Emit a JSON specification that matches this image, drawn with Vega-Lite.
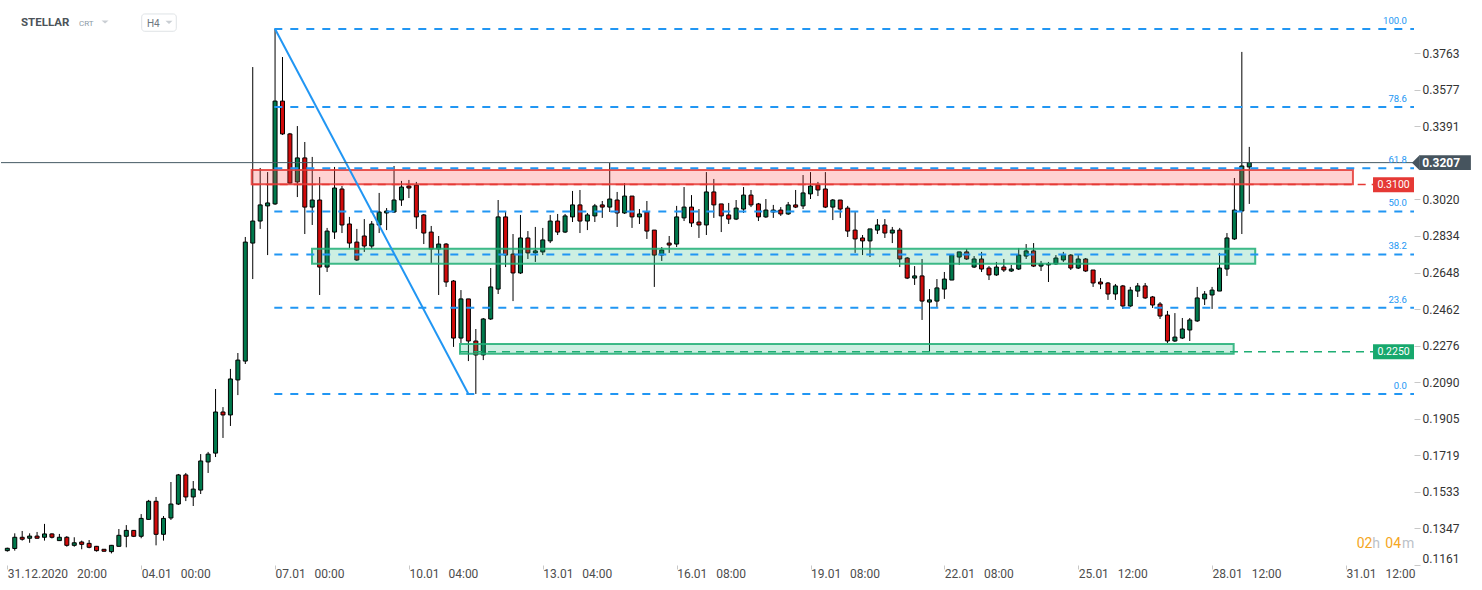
{
"$schema": "https://vega.github.io/schema/vega-lite/v6.json",
"width": 1413, "height": 565, "padding": 0, "background": "#ffffff",
"config": {"view": {"stroke": null}, "font": "Roboto", "text": {"font": "Roboto"}, "scale": {"continuousPadding": 0}},
"datasets": {
"candles": [
{"i":0,"o":0.1234,"h":0.1249,"l":0.1229,"c":0.1246},
{"i":1,"o":0.1245,"h":0.1322,"l":0.1234,"c":0.1302},
{"i":2,"o":0.1302,"h":0.1334,"l":0.1285,"c":0.1292},
{"i":3,"o":0.1297,"h":0.1322,"l":0.1274,"c":0.1308},
{"i":4,"o":0.1308,"h":0.1329,"l":0.1296,"c":0.1297},
{"i":5,"o":0.1302,"h":0.1370,"l":0.1285,"c":0.1319},
{"i":6,"o":0.1319,"h":0.1322,"l":0.1296,"c":0.1302},
{"i":7,"o":0.1285,"h":0.1319,"l":0.1284,"c":0.1302},
{"i":8,"o":0.1302,"h":0.1308,"l":0.1254,"c":0.1261},
{"i":9,"o":0.1261,"h":0.1302,"l":0.1254,"c":0.1274},
{"i":10,"o":0.1278,"h":0.1285,"l":0.1241,"c":0.1266},
{"i":11,"o":0.1271,"h":0.1288,"l":0.1246,"c":0.1251},
{"i":12,"o":0.1256,"h":0.1258,"l":0.1229,"c":0.1234},
{"i":13,"o":0.1241,"h":0.1242,"l":0.1229,"c":0.1231},
{"i":14,"o":0.1229,"h":0.1263,"l":0.1220,"c":0.1261},
{"i":15,"o":0.1256,"h":0.1344,"l":0.1255,"c":0.1312},
{"i":16,"o":0.1307,"h":0.1364,"l":0.1251,"c":0.1337},
{"i":17,"o":0.1337,"h":0.1339,"l":0.1303,"c":0.1307},
{"i":18,"o":0.1307,"h":0.1420,"l":0.1297,"c":0.1398},
{"i":19,"o":0.1393,"h":0.1492,"l":0.1392,"c":0.1485},
{"i":20,"o":0.1485,"h":0.1507,"l":0.1261,"c":0.1317},
{"i":21,"o":0.1317,"h":0.1410,"l":0.1285,"c":0.1398},
{"i":22,"o":0.1400,"h":0.1583,"l":0.1390,"c":0.1471},
{"i":23,"o":0.1471,"h":0.1624,"l":0.1466,"c":0.1619},
{"i":24,"o":0.1619,"h":0.1629,"l":0.1486,"c":0.1507},
{"i":25,"o":0.1507,"h":0.1588,"l":0.1461,"c":0.1547},
{"i":26,"o":0.1542,"h":0.1725,"l":0.1522,"c":0.1690},
{"i":27,"o":0.1685,"h":0.1736,"l":0.1629,"c":0.1725},
{"i":28,"o":0.1730,"h":0.2056,"l":0.1710,"c":0.1939},
{"i":29,"o":0.1939,"h":0.1964,"l":0.1807,"c":0.1924},
{"i":30,"o":0.1924,"h":0.2158,"l":0.1868,"c":0.2107},
{"i":31,"o":0.2102,"h":0.2239,"l":0.2025,"c":0.2203},
{"i":32,"o":0.2198,"h":0.2829,"l":0.2183,"c":0.2803},
{"i":33,"o":0.2798,"h":0.3693,"l":0.2615,"c":0.2910},
{"i":34,"o":0.2910,"h":0.3180,"l":0.2870,"c":0.2992},
{"i":35,"o":0.2987,"h":0.3159,"l":0.2737,"c":0.3002},
{"i":36,"o":0.2997,"h":0.3887,"l":0.2992,"c":0.3520},
{"i":37,"o":0.3520,"h":0.3744,"l":0.3348,"c":0.3353},
{"i":38,"o":0.3353,"h":0.3358,"l":0.3098,"c":0.3103},
{"i":39,"o":0.3109,"h":0.3393,"l":0.3032,"c":0.3231},
{"i":40,"o":0.3231,"h":0.3312,"l":0.2844,"c":0.2981},
{"i":41,"o":0.2981,"h":0.3236,"l":0.2890,"c":0.3017},
{"i":42,"o":0.3017,"h":0.3134,"l":0.2534,"c":0.2676},
{"i":43,"o":0.2676,"h":0.2875,"l":0.2651,"c":0.2859},
{"i":44,"o":0.2854,"h":0.3185,"l":0.2819,"c":0.3078},
{"i":45,"o":0.3073,"h":0.3088,"l":0.2849,"c":0.2890},
{"i":46,"o":0.2895,"h":0.2931,"l":0.2773,"c":0.2798},
{"i":47,"o":0.2803,"h":0.2870,"l":0.2707,"c":0.2712},
{"i":48,"o":0.2834,"h":0.2920,"l":0.2753,"c":0.2783},
{"i":49,"o":0.2783,"h":0.2910,"l":0.2768,"c":0.2895},
{"i":50,"o":0.2890,"h":0.3053,"l":0.2849,"c":0.2956},
{"i":51,"o":0.2951,"h":0.2976,"l":0.2864,"c":0.2961},
{"i":52,"o":0.2956,"h":0.3190,"l":0.2951,"c":0.3017},
{"i":53,"o":0.3017,"h":0.3114,"l":0.2987,"c":0.3083},
{"i":54,"o":0.3088,"h":0.3119,"l":0.3027,"c":0.3078},
{"i":55,"o":0.3093,"h":0.3109,"l":0.2870,"c":0.2931},
{"i":56,"o":0.2941,"h":0.2946,"l":0.2793,"c":0.2849},
{"i":57,"o":0.2854,"h":0.2885,"l":0.2697,"c":0.2768},
{"i":58,"o":0.2768,"h":0.2834,"l":0.2534,"c":0.2793},
{"i":59,"o":0.2793,"h":0.2798,"l":0.2575,"c":0.2600},
{"i":60,"o":0.2605,"h":0.2610,"l":0.2270,"c":0.2315},
{"i":61,"o":0.2315,"h":0.2559,"l":0.2290,"c":0.2514},
{"i":62,"o":0.2514,"h":0.2514,"l":0.2198,"c":0.2300},
{"i":63,"o":0.2300,"h":0.2361,"l":0.2031,"c":0.2229},
{"i":64,"o":0.2229,"h":0.2417,"l":0.2203,"c":0.2412},
{"i":65,"o":0.2412,"h":0.2671,"l":0.2407,"c":0.2575},
{"i":66,"o":0.2564,"h":0.3017,"l":0.2539,"c":0.2931},
{"i":67,"o":0.2931,"h":0.2961,"l":0.2676,"c":0.2737},
{"i":68,"o":0.2742,"h":0.2844,"l":0.2503,"c":0.2646},
{"i":69,"o":0.2646,"h":0.2941,"l":0.2641,"c":0.2824},
{"i":70,"o":0.2824,"h":0.2859,"l":0.2717,"c":0.2748},
{"i":71,"o":0.2748,"h":0.2880,"l":0.2702,"c":0.2758},
{"i":72,"o":0.2753,"h":0.2875,"l":0.2737,"c":0.2814},
{"i":73,"o":0.2809,"h":0.2941,"l":0.2798,"c":0.2910},
{"i":74,"o":0.2910,"h":0.2946,"l":0.2839,"c":0.2854},
{"i":75,"o":0.2854,"h":0.2946,"l":0.2849,"c":0.2936},
{"i":76,"o":0.2931,"h":0.3063,"l":0.2905,"c":0.2992},
{"i":77,"o":0.2992,"h":0.3068,"l":0.2849,"c":0.2910},
{"i":78,"o":0.2910,"h":0.2951,"l":0.2864,"c":0.2941},
{"i":79,"o":0.2936,"h":0.2997,"l":0.2905,"c":0.2987},
{"i":80,"o":0.2992,"h":0.3012,"l":0.2926,"c":0.2981},
{"i":81,"o":0.2981,"h":0.3205,"l":0.2956,"c":0.3022},
{"i":82,"o":0.3017,"h":0.3058,"l":0.2880,"c":0.2951},
{"i":83,"o":0.2951,"h":0.3103,"l":0.2946,"c":0.3037},
{"i":84,"o":0.3037,"h":0.3037,"l":0.2875,"c":0.2931},
{"i":85,"o":0.2931,"h":0.2971,"l":0.2895,"c":0.2946},
{"i":86,"o":0.2956,"h":0.3012,"l":0.2819,"c":0.2859},
{"i":87,"o":0.2864,"h":0.2864,"l":0.2575,"c":0.2737},
{"i":88,"o":0.2737,"h":0.2778,"l":0.2707,"c":0.2763},
{"i":89,"o":0.2798,"h":0.2834,"l":0.2748,"c":0.2788},
{"i":90,"o":0.2793,"h":0.2987,"l":0.2778,"c":0.2931},
{"i":91,"o":0.2926,"h":0.3083,"l":0.2910,"c":0.2981},
{"i":92,"o":0.2981,"h":0.3042,"l":0.2880,"c":0.2900},
{"i":93,"o":0.2905,"h":0.2971,"l":0.2824,"c":0.2890},
{"i":94,"o":0.2890,"h":0.3159,"l":0.2839,"c":0.3058},
{"i":95,"o":0.3058,"h":0.3124,"l":0.2926,"c":0.2992},
{"i":96,"o":0.2997,"h":0.2997,"l":0.2854,"c":0.2936},
{"i":97,"o":0.2941,"h":0.3002,"l":0.2895,"c":0.2920},
{"i":98,"o":0.2920,"h":0.3017,"l":0.2915,"c":0.2976},
{"i":99,"o":0.2971,"h":0.3083,"l":0.2951,"c":0.3042},
{"i":100,"o":0.3042,"h":0.3068,"l":0.2981,"c":0.2992},
{"i":101,"o":0.2997,"h":0.3002,"l":0.2910,"c":0.2931},
{"i":102,"o":0.2931,"h":0.3022,"l":0.2926,"c":0.2966},
{"i":103,"o":0.2956,"h":0.2992,"l":0.2926,"c":0.2966},
{"i":104,"o":0.2966,"h":0.2981,"l":0.2936,"c":0.2946},
{"i":105,"o":0.2946,"h":0.3007,"l":0.2941,"c":0.2992},
{"i":106,"o":0.2992,"h":0.3068,"l":0.2976,"c":0.2981},
{"i":107,"o":0.2987,"h":0.3144,"l":0.2971,"c":0.3053},
{"i":108,"o":0.3048,"h":0.3159,"l":0.3022,"c":0.3088},
{"i":109,"o":0.3093,"h":0.3109,"l":0.3037,"c":0.3068},
{"i":110,"o":0.3073,"h":0.3159,"l":0.2976,"c":0.2981},
{"i":111,"o":0.2981,"h":0.3022,"l":0.2915,"c":0.3017},
{"i":112,"o":0.3017,"h":0.3017,"l":0.2926,"c":0.2971},
{"i":113,"o":0.2976,"h":0.2987,"l":0.2829,"c":0.2859},
{"i":114,"o":0.2864,"h":0.2961,"l":0.2748,"c":0.2819},
{"i":115,"o":0.2824,"h":0.2839,"l":0.2737,"c":0.2809},
{"i":116,"o":0.2809,"h":0.2870,"l":0.2727,"c":0.2870},
{"i":117,"o":0.2864,"h":0.2920,"l":0.2844,"c":0.2890},
{"i":118,"o":0.2890,"h":0.2920,"l":0.2824,"c":0.2849},
{"i":119,"o":0.2849,"h":0.2880,"l":0.2798,"c":0.2864},
{"i":120,"o":0.2864,"h":0.2875,"l":0.2676,"c":0.2717},
{"i":121,"o":0.2722,"h":0.2727,"l":0.2615,"c":0.2620},
{"i":122,"o":0.2620,"h":0.2681,"l":0.2585,"c":0.2631},
{"i":123,"o":0.2631,"h":0.2717,"l":0.2407,"c":0.2503},
{"i":124,"o":0.2498,"h":0.2564,"l":0.2244,"c":0.2509},
{"i":125,"o":0.2503,"h":0.2615,"l":0.2473,"c":0.2570},
{"i":126,"o":0.2564,"h":0.2651,"l":0.2514,"c":0.2615},
{"i":127,"o":0.2610,"h":0.2742,"l":0.2610,"c":0.2737},
{"i":128,"o":0.2727,"h":0.2753,"l":0.2687,"c":0.2753},
{"i":129,"o":0.2753,"h":0.2768,"l":0.2712,"c":0.2717},
{"i":130,"o":0.2676,"h":0.2732,"l":0.2671,"c":0.2717},
{"i":131,"o":0.2717,"h":0.2753,"l":0.2651,"c":0.2666},
{"i":132,"o":0.2671,"h":0.2681,"l":0.2610,"c":0.2636},
{"i":133,"o":0.2636,"h":0.2702,"l":0.2631,"c":0.2676},
{"i":134,"o":0.2676,"h":0.2717,"l":0.2651,"c":0.2661},
{"i":135,"o":0.2656,"h":0.2687,"l":0.2651,"c":0.2666},
{"i":136,"o":0.2666,"h":0.2773,"l":0.2661,"c":0.2737},
{"i":137,"o":0.2732,"h":0.2793,"l":0.2717,"c":0.2758},
{"i":138,"o":0.2758,"h":0.2798,"l":0.2676,"c":0.2681},
{"i":139,"o":0.2681,"h":0.2707,"l":0.2656,"c":0.2692},
{"i":140,"o":0.2687,"h":0.2702,"l":0.2600,"c":0.2692},
{"i":141,"o":0.2692,"h":0.2737,"l":0.2687,"c":0.2722},
{"i":142,"o":0.2712,"h":0.2753,"l":0.2702,"c":0.2737},
{"i":143,"o":0.2737,"h":0.2742,"l":0.2661,"c":0.2671},
{"i":144,"o":0.2671,"h":0.2737,"l":0.2666,"c":0.2717},
{"i":145,"o":0.2717,"h":0.2722,"l":0.2651,"c":0.2656},
{"i":146,"o":0.2661,"h":0.2661,"l":0.2575,"c":0.2595},
{"i":147,"o":0.2600,"h":0.2620,"l":0.2564,"c":0.2590},
{"i":148,"o":0.2595,"h":0.2600,"l":0.2509,"c":0.2539},
{"i":149,"o":0.2539,"h":0.2590,"l":0.2509,"c":0.2580},
{"i":150,"o":0.2580,"h":0.2585,"l":0.2463,"c":0.2478},
{"i":151,"o":0.2478,"h":0.2575,"l":0.2473,"c":0.2559},
{"i":152,"o":0.2554,"h":0.2595,"l":0.2524,"c":0.2580},
{"i":153,"o":0.2580,"h":0.2595,"l":0.2514,"c":0.2519},
{"i":154,"o":0.2524,"h":0.2529,"l":0.2468,"c":0.2483},
{"i":155,"o":0.2488,"h":0.2498,"l":0.2412,"c":0.2427},
{"i":156,"o":0.2432,"h":0.2453,"l":0.2290,"c":0.2300},
{"i":157,"o":0.2300,"h":0.2442,"l":0.2295,"c":0.2320},
{"i":158,"o":0.2315,"h":0.2417,"l":0.2310,"c":0.2361},
{"i":159,"o":0.2356,"h":0.2417,"l":0.2300,"c":0.2407},
{"i":160,"o":0.2402,"h":0.2575,"l":0.2397,"c":0.2519},
{"i":161,"o":0.2514,"h":0.2554,"l":0.2483,"c":0.2539},
{"i":162,"o":0.2534,"h":0.2575,"l":0.2463,"c":0.2559},
{"i":163,"o":0.2554,"h":0.2748,"l":0.2554,"c":0.2671},
{"i":164,"o":0.2666,"h":0.2849,"l":0.2631,"c":0.2824},
{"i":165,"o":0.2819,"h":0.3129,"l":0.2814,"c":0.2966},
{"i":166,"o":0.2961,"h":0.3770,"l":0.2844,"c":0.3190},
{"i":167,"o":0.3185,"h":0.3287,"l":0.2997,"c":0.3207}
]
},
"layer": [
{"data": {"name": "candles"},
 "mark": {"type": "rule", "color": "#000000", "strokeWidth": 1},
 "encoding": {
  "x": {"field": "i", "type": "quantitative", "scale": {"domain": [-0.85, 189.15], "nice": false, "zero": false, "padding": 0},
        "axis": {"orient": "bottom", "title": null, "values": [0,18,36,54,72,90,108,126,144,162,180],
                 "labelExpr": "['31.12.2020\u00a0\u00a0\u00a020:00','04.01\u00a0\u00a0\u00a000:00','07.01\u00a0\u00a0\u00a000:00','10.01\u00a0\u00a0\u00a004:00','13.01\u00a0\u00a0\u00a004:00','16.01\u00a0\u00a0\u00a008:00','19.01\u00a0\u00a0\u00a008:00','22.01\u00a0\u00a0\u00a008:00','25.01\u00a0\u00a0\u00a012:00','28.01\u00a0\u00a0\u00a012:00','31.01\u00a0\u00a0\u00a012:00'][round(datum.value/18)]",
                 "domain": false, "grid": false, "tickSize": 4, "tickColor": "#c8c8c8", "labelAlign": "left", "labelPadding": -1,
                 "labelFontSize": 12, "labelFont": "Roboto", "labelColor": "#4d4d4d", "labelFlush": false, "labelOverlap": false, "labelBound": false}},
  "y": {"field": "l", "type": "quantitative", "scale": {"domain": [0.1161, 0.4034], "nice": false, "zero": false, "padding": 0},
        "axis": {"orient": "right", "title": null, "values": [0.1161,0.1347,0.1533,0.1719,0.1905,0.2090,0.2276,0.2462,0.2648,0.2834,0.3020,0.3391,0.3577,0.3763],
                 "format": ".4f", "domain": false, "grid": false, "tickSize": 6, "tickColor": "#c8c8c8", "labelPadding": 2,
                 "labelFontSize": 12, "labelFont": "Roboto", "labelColor": "#333333", "labelFlush": true, "labelOverlap": false}},
  "y2": {"field": "h"}}},
{"data": {"name": "candles"},
 "mark": {"type": "bar", "size": 4, "stroke": "#000000", "strokeWidth": 1},
 "encoding": {
  "x": {"field": "i", "type": "quantitative", "scale": {"domain": [-0.85, 189.15], "nice": false, "zero": false, "padding": 0}},
  "y": {"field": "o", "type": "quantitative", "scale": {"domain": [0.1161, 0.4034], "nice": false, "zero": false, "padding": 0}},
  "y2": {"field": "c"},
  "fill": {"condition": {"test": "datum.c >= datum.o", "value": "#00794c"}, "value": "#d10a0a"}}},
{"data": {"values": [{"x1": 32.86, "x2": 180.94, "y1": 0.3097, "y2": 0.3170}]},
 "mark": {"type": "rect", "fill": "#ff4d4d", "fillOpacity": 0.25, "stroke": "#e53935", "strokeWidth": 2, "strokeOpacity": 0.85},
 "encoding": {
  "x": {"field": "x1", "type": "quantitative", "scale": {"domain": [-0.85, 189.15], "nice": false, "zero": false, "padding": 0}},
  "x2": {"field": "x2"},
  "y": {"field": "y1", "type": "quantitative", "scale": {"domain": [0.1161, 0.4034], "nice": false, "zero": false, "padding": 0}},
  "y2": {"field": "y2"}}},
{"data": {"values": [{"x1": 40.97, "x2": 167.8, "y1": 0.2693, "y2": 0.2769}, {"x1": 60.87, "x2": 164.9, "y1": 0.2235, "y2": 0.2285}]},
 "mark": {"type": "rect", "fill": "#1db47a", "fillOpacity": 0.22, "stroke": "#1fae74", "strokeWidth": 2, "strokeOpacity": 0.85},
 "encoding": {
  "x": {"field": "x1", "type": "quantitative", "scale": {"domain": [-0.85, 189.15], "nice": false, "zero": false, "padding": 0}},
  "x2": {"field": "x2"},
  "y": {"field": "y1", "type": "quantitative", "scale": {"domain": [0.1161, 0.4034], "nice": false, "zero": false, "padding": 0}},
  "y2": {"field": "y2"}}},
{"data": {"values": [{"x1": 32.86, "x2": 183.64, "y": 0.3096}]},
 "mark": {"type": "rule", "color": "#e53935", "strokeWidth": 1.5, "strokeDash": [8, 6]},
 "encoding": {
  "x": {"field": "x1", "type": "quantitative", "scale": {"domain": [-0.85, 189.15], "nice": false, "zero": false, "padding": 0}},
  "x2": {"field": "x2"},
  "y": {"field": "y", "type": "quantitative", "scale": {"domain": [0.1161, 0.4034], "nice": false, "zero": false, "padding": 0}}}},
{"data": {"values": [{"x1": 60.87, "x2": 183.64, "y": 0.2245}]},
 "mark": {"type": "rule", "color": "#1fae74", "strokeWidth": 1.5, "strokeDash": [8, 6]},
 "encoding": {
  "x": {"field": "x1", "type": "quantitative", "scale": {"domain": [-0.85, 189.15], "nice": false, "zero": false, "padding": 0}},
  "x2": {"field": "x2"},
  "y": {"field": "y", "type": "quantitative", "scale": {"domain": [0.1161, 0.4034], "nice": false, "zero": false, "padding": 0}}}},
{"data": {"values": [{"p": 0.2031}, {"p": 0.2469}, {"p": 0.2740}, {"p": 0.2959}, {"p": 0.3178}, {"p": 0.3490}, {"p": 0.3887}]},
 "mark": {"type": "rule", "color": "#2196f3", "strokeWidth": 2, "strokeDash": [8, 8]},
 "encoding": {
  "x": {"datum": 35.9, "type": "quantitative", "scale": {"domain": [-0.85, 189.15], "nice": false, "zero": false, "padding": 0}},
  "x2": {"datum": 189.15},
  "y": {"field": "p", "type": "quantitative", "scale": {"domain": [0.1161, 0.4034], "nice": false, "zero": false, "padding": 0}}}},
{"data": {"values": [{}]},
 "mark": {"type": "rule", "color": "#2196f3", "strokeWidth": 2},
 "encoding": {
  "x": {"datum": 36, "type": "quantitative", "scale": {"domain": [-0.85, 189.15], "nice": false, "zero": false, "padding": 0}},
  "x2": {"datum": 62},
  "y": {"datum": 0.3887, "type": "quantitative", "scale": {"domain": [0.1161, 0.4034], "nice": false, "zero": false, "padding": 0}},
  "y2": {"datum": 0.2031}}},
{"data": {"values": [{}]},
 "mark": {"type": "rule", "color": "#455a64", "strokeWidth": 1},
 "encoding": {
  "x": {"datum": -0.85, "type": "quantitative", "scale": {"domain": [-0.85, 189.15], "nice": false, "zero": false, "padding": 0}},
  "x2": {"datum": 189.15},
  "y": {"datum": 0.3207, "type": "quantitative", "scale": {"domain": [0.1161, 0.4034], "nice": false, "zero": false, "padding": 0}}}},
{"data": {"values": [
  {"t": "100.0", "p": 0.3928}, {"t": "78.6", "p": 0.3531}, {"t": "61.8", "p": 0.3219}, {"t": "50.0", "p": 0.3000},
  {"t": "38.2", "p": 0.2781}, {"t": "23.6", "p": 0.2510}, {"t": "0.0", "p": 0.2072}]},
 "mark": {"type": "text", "align": "right", "baseline": "middle", "fontSize": 9.5, "color": "#2196f3", "font": "Roboto"},
 "encoding": {
  "x": {"datum": 188.2, "type": "quantitative", "scale": {"domain": [-0.85, 189.15], "nice": false, "zero": false, "padding": 0}},
  "y": {"field": "p", "type": "quantitative", "scale": {"domain": [0.1161, 0.4034], "nice": false, "zero": false, "padding": 0}},
  "text": {"field": "t"}}},
{"data": {"values": [{"x1": 183.64, "x2": 189.15, "y1": 0.3057, "y2": 0.3133}]},
 "mark": {"type": "rect", "color": "#e53935"},
 "encoding": {
  "x": {"field": "x1", "type": "quantitative", "scale": {"domain": [-0.85, 189.15], "nice": false, "zero": false, "padding": 0}},
  "x2": {"field": "x2"},
  "y": {"field": "y1", "type": "quantitative", "scale": {"domain": [0.1161, 0.4034], "nice": false, "zero": false, "padding": 0}},
  "y2": {"field": "y2"}}},
{"data": {"values": [{"x1": 183.64, "x2": 189.15, "y1": 0.2207, "y2": 0.2283}]},
 "mark": {"type": "rect", "color": "#17a86d"},
 "encoding": {
  "x": {"field": "x1", "type": "quantitative", "scale": {"domain": [-0.85, 189.15], "nice": false, "zero": false, "padding": 0}},
  "x2": {"field": "x2"},
  "y": {"field": "y1", "type": "quantitative", "scale": {"domain": [0.1161, 0.4034], "nice": false, "zero": false, "padding": 0}},
  "y2": {"field": "y2"}}},
{"data": {"values": [{"x1": 189.85, "x2": 196.8, "y1": 0.3169, "y2": 0.3245}]},
 "mark": {"type": "rect", "color": "#46545e"},
 "encoding": {
  "x": {"field": "x1", "type": "quantitative", "scale": {"domain": [-0.85, 189.15], "nice": false, "zero": false, "padding": 0}},
  "x2": {"field": "x2"},
  "y": {"field": "y1", "type": "quantitative", "scale": {"domain": [0.1161, 0.4034], "nice": false, "zero": false, "padding": 0}},
  "y2": {"field": "y2"}}},
{"data": {"values": [{}]},
 "mark": {"type": "point", "shape": "M0,-1L-1,0L0,1Z", "size": 225, "filled": true, "opacity": 1, "color": "#46545e"},
 "encoding": {
  "x": {"datum": 189.89, "type": "quantitative", "scale": {"domain": [-0.85, 189.15], "nice": false, "zero": false, "padding": 0}},
  "y": {"datum": 0.3207, "type": "quantitative", "scale": {"domain": [0.1161, 0.4034], "nice": false, "zero": false, "padding": 0}}}},
{"data": {"values": [{"t": "0.3207", "x": 192.8, "p": 0.3207}]},
 "mark": {"type": "text", "align": "center", "baseline": "middle", "fontSize": 12, "fontWeight": "bold", "color": "#ffffff", "font": "Roboto"},
 "encoding": {
  "x": {"field": "x", "type": "quantitative", "scale": {"domain": [-0.85, 189.15], "nice": false, "zero": false, "padding": 0}},
  "y": {"field": "p", "type": "quantitative", "scale": {"domain": [0.1161, 0.4034], "nice": false, "zero": false, "padding": 0}},
  "text": {"field": "t"}}},
{"data": {"values": [{"t": "0.3100", "x": 186.4, "p": 0.3095}, {"t": "0.2250", "x": 186.4, "p": 0.2245}]},
 "mark": {"type": "text", "align": "center", "baseline": "middle", "fontSize": 10.5, "color": "#ffffff", "font": "Roboto"},
 "encoding": {
  "x": {"field": "x", "type": "quantitative", "scale": {"domain": [-0.85, 189.15], "nice": false, "zero": false, "padding": 0}},
  "y": {"field": "p", "type": "quantitative", "scale": {"domain": [0.1161, 0.4034], "nice": false, "zero": false, "padding": 0}},
  "text": {"field": "t"}}},
{"data": {"values": [{"x1": 18.07, "x2": 22.72, "y1": 0.3875, "y2": 0.3963}]},
 "mark": {"type": "rect", "fill": "#ffffff", "stroke": "#dfe3e6", "strokeWidth": 1, "cornerRadius": 3},
 "encoding": {
  "x": {"field": "x1", "type": "quantitative", "scale": {"domain": [-0.85, 189.15], "nice": false, "zero": false, "padding": 0}},
  "x2": {"field": "x2"},
  "y": {"field": "y1", "type": "quantitative", "scale": {"domain": [0.1161, 0.4034], "nice": false, "zero": false, "padding": 0}},
  "y2": {"field": "y2"}}},
{"data": {"values": [{"t": "STELLAR", "x": 1.84, "p": 0.3916}]},
 "mark": {"type": "text", "align": "left", "baseline": "middle", "fontSize": 11.5, "fontWeight": "bold", "color": "#4c5359", "font": "Roboto"},
 "encoding": {
  "x": {"field": "x", "type": "quantitative", "scale": {"domain": [-0.85, 189.15], "nice": false, "zero": false, "padding": 0}},
  "y": {"field": "p", "type": "quantitative", "scale": {"domain": [0.1161, 0.4034], "nice": false, "zero": false, "padding": 0}},
  "text": {"field": "t"}}},
{"data": {"values": [{"t": "CRT", "x": 9.64, "p": 0.3911}]},
 "mark": {"type": "text", "align": "left", "baseline": "middle", "fontSize": 8, "color": "#8d9aa6", "font": "Roboto"},
 "encoding": {
  "x": {"field": "x", "type": "quantitative", "scale": {"domain": [-0.85, 189.15], "nice": false, "zero": false, "padding": 0}},
  "y": {"field": "p", "type": "quantitative", "scale": {"domain": [0.1161, 0.4034], "nice": false, "zero": false, "padding": 0}},
  "text": {"field": "t"}}},
{"data": {"values": [{"t": "H4", "x": 18.78, "p": 0.3911}]},
 "mark": {"type": "text", "align": "left", "baseline": "middle", "fontSize": 10, "color": "#6d7780", "font": "Roboto"},
 "encoding": {
  "x": {"field": "x", "type": "quantitative", "scale": {"domain": [-0.85, 189.15], "nice": false, "zero": false, "padding": 0}},
  "y": {"field": "p", "type": "quantitative", "scale": {"domain": [0.1161, 0.4034], "nice": false, "zero": false, "padding": 0}},
  "text": {"field": "t"}}},
{"data": {"values": [{"x": 13.14, "p": 0.3922}, {"x": 21.74, "p": 0.3920}]},
 "mark": {"type": "point", "shape": "M-1,-0.45L1,-0.45L0,0.45Z", "size": 49, "filled": true, "opacity": 1, "color": "#c9ced3"},
 "encoding": {
  "x": {"field": "x", "type": "quantitative", "scale": {"domain": [-0.85, 189.15], "nice": false, "zero": false, "padding": 0}},
  "y": {"field": "p", "type": "quantitative", "scale": {"domain": [0.1161, 0.4034], "nice": false, "zero": false, "padding": 0}}}},
{"data": {"values": [{"t": "02", "x": 181.44}, {"t": "04", "x": 185.29}]},
 "mark": {"type": "text", "align": "left", "baseline": "middle", "fontSize": 14, "font": "Roboto", "color": "#f5a623"},
 "encoding": {
  "x": {"field": "x", "type": "quantitative", "scale": {"domain": [-0.85, 189.15], "nice": false, "zero": false, "padding": 0}},
  "y": {"datum": 0.1266, "type": "quantitative", "scale": {"domain": [0.1161, 0.4034], "nice": false, "zero": false, "padding": 0}},
  "text": {"field": "t"}}},
{"data": {"values": [{"t": "h", "x": 183.54}, {"t": "m", "x": 187.53}]},
 "mark": {"type": "text", "align": "left", "baseline": "middle", "fontSize": 14, "font": "Roboto", "color": "#bcc2c8"},
 "encoding": {
  "x": {"field": "x", "type": "quantitative", "scale": {"domain": [-0.85, 189.15], "nice": false, "zero": false, "padding": 0}},
  "y": {"datum": 0.1266, "type": "quantitative", "scale": {"domain": [0.1161, 0.4034], "nice": false, "zero": false, "padding": 0}},
  "text": {"field": "t"}}}
]
}
